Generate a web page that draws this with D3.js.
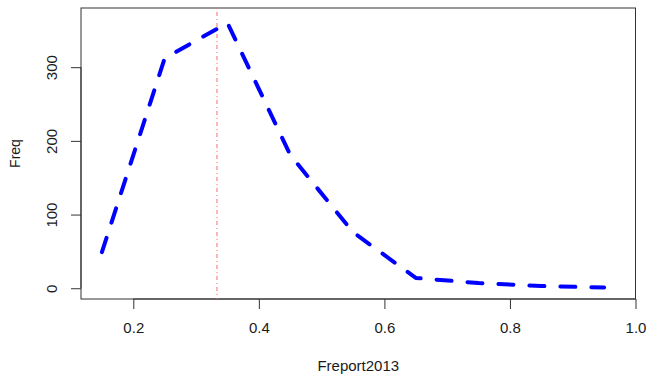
<!DOCTYPE html>
<html><head><meta charset="utf-8">
<script src="https://cdn.jsdelivr.net/npm/d3@7"></script>
<style>body{margin:0;background:#fff}svg{display:block}text{font-family:"Liberation Sans",Arial,sans-serif;fill:#1a1a1a}</style>
</head><body><div id="chart"></div>
<script>
const xValues = [0.15, 0.25, 0.35, 0.45, 0.55, 0.65, 0.75, 0.85, 0.95];
const freq = [49, 312, 360, 181, 76, 14, 7, 3, 1];
const xTicks = [0.2, 0.4, 0.6, 0.8, 1.0];
const yTicks = [0, 100, 200, 300];
const refLine = 1/3;
const xLabel = "Freport2013";
const yLabel = "Freq";

const W = 649, H = 381;
const L = 81, R = 635.5, T = 8, B = 299;
const FS = 15;
const svg = d3.select("#chart").append("svg").attr("width", W).attr("height", H);
const x = d3.scaleLinear().domain([0.1167, 1.0]).range([L, R]);
const y = d3.scaleLinear().domain([-14.6, 380.3]).range([B, T]);

// box
svg.append("rect").attr("x", L).attr("y", T).attr("width", R - L).attr("height", B - T)
  .attr("fill", "none").attr("stroke", "#333").attr("stroke-width", 1);

// x axis
const xa = svg.append("g").attr("transform", `translate(0,${B})`)
  .call(d3.axisBottom(x).tickValues(xTicks).tickFormat(d3.format(".1f")).tickSize(10));
xa.select(".domain").attr("d", `M${x(xTicks[0])},0H${x(xTicks[xTicks.length-1])}`).attr("stroke", "#333");
xa.selectAll(".tick line").attr("stroke", "#333");
xa.selectAll(".tick text").attr("font-size", FS).attr("fill", "#1a1a1a")
  .attr("font-family", "Liberation Sans, Arial, sans-serif")
  .attr("y", 29).attr("dy", "0.35em");

// y axis
const ya = svg.append("g").attr("transform", `translate(${L},0)`)
  .call(d3.axisLeft(y).tickValues(yTicks).tickSize(10));
ya.select(".domain").attr("d", `M0,${y(yTicks[0])}V${y(yTicks[yTicks.length-1])}`).attr("stroke", "#333");
ya.selectAll(".tick line").attr("stroke", "#333");
ya.selectAll(".tick text").attr("font-size", FS).attr("fill", "#1a1a1a")
  .attr("font-family", "Liberation Sans, Arial, sans-serif")
  .attr("x", null)
  .attr("text-anchor", "middle")
  .attr("transform", "translate(-29.5,0) rotate(-90)")
  .attr("dy", "0.35em");

// axis titles
svg.append("text").attr("x", (L + R) / 2).attr("y", 366).attr("dy", "0.35em").attr("text-anchor", "middle")
  .attr("font-size", FS).text(xLabel);
svg.append("text").attr("transform", `translate(15.5,${(T + B) / 2}) rotate(-90)`)
  .attr("dy", "0.35em").attr("text-anchor", "middle").attr("font-size", 14).text(yLabel);

// reference line
svg.append("line").attr("x1", x(refLine)).attr("x2", x(refLine)).attr("y1", T).attr("y2", B)
  .attr("stroke", "#ff6a6a").attr("stroke-width", 1).attr("stroke-dasharray", "1 3 4 3");

// data line
const line = d3.line().x((d, i) => x(xValues[i])).y(d => y(d));
svg.append("path").datum(freq).attr("d", line).attr("fill", "none")
  .attr("stroke", "#0000ff").attr("stroke-width", 4)
  .attr("stroke-linecap", "round").attr("stroke-linejoin", "round")
  .attr("stroke-dasharray", "15 16");
</script></body></html>
